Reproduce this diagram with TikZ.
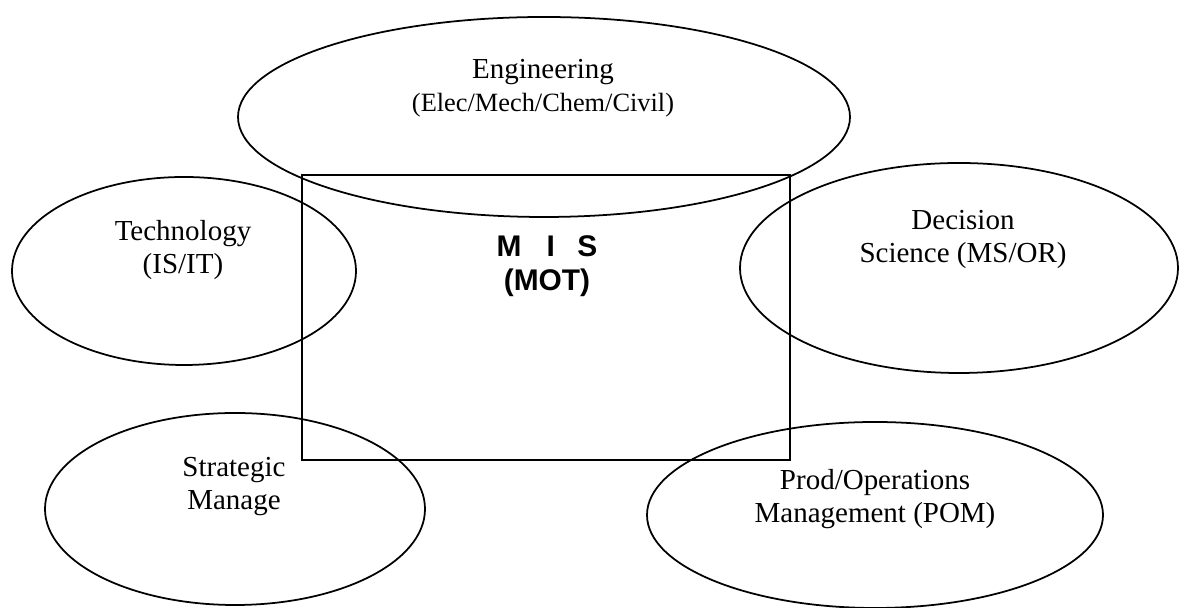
\documentclass[tikz,border=0pt]{standalone}
\usepackage{fontspec}
\setmainfont{Liberation Serif}
\setsansfont{Liberation Sans}
\usepackage{tikz}
\usetikzlibrary{shapes.geometric}

\begin{document}
\begin{tikzpicture}[
        area/.style={shape=ellipse, draw=black, line width=1pt, inner sep=0pt},
        lbl/.style={align=center, font=\fontsize{16.5}{18.8}\selectfont}
    ]
        \useasboundingbox (0, 0) rectangle (23.58, 12.16);

        % the five fields round the core
        \node[area, minimum width=12.24cm, minimum height=4.0cm] (eng) at (10.88, 9.82) {};
        \node[area, minimum width=6.88cm, minimum height=3.76cm] (tech) at (3.68, 6.74) {};
        \node[area, minimum width=8.76cm, minimum height=4.2cm] (dec) at (19.18, 6.80) {};
        \node[area, minimum width=7.6cm, minimum height=3.84cm] (strat) at (4.70, 1.98) {};
        \node[area, minimum width=9.12cm, minimum height=3.72cm] (pom) at (17.50, 1.86) {};

        % the core box
        \node[draw=black, line width=0.9pt, minimum width=9.76cm, minimum height=5.7cm] (core) at (10.92, 5.81) {};

        \node[lbl] (engtxt) at (10.86, 10.39) {Engineering\\{\fontsize{15}{18.8}\selectfont (Elec/Mech/Chem/Civil)}};
        \node[lbl] (techtxt) at (3.66, 7.15) {Technology\\(IS/IT)};
        \node[lbl] (dectxt) at (19.26, 7.37) {Decision\\Science (MS/OR)};
        \node[lbl] (strattxt) at (4.68, 2.43) {Strategic\\Manage};
        \node[lbl] (pomtxt) at (17.50, 2.18) {Prod/Operations\\Management (POM)};

        \node[align=center, font=\sffamily\bfseries\fontsize{17}{19.5}\selectfont] (mis) at (10.94, 6.84)
            {M\hspace{0.5cm}I\hspace{0.45cm}S\\(MOT)};
    \end{tikzpicture}
\end{document}
